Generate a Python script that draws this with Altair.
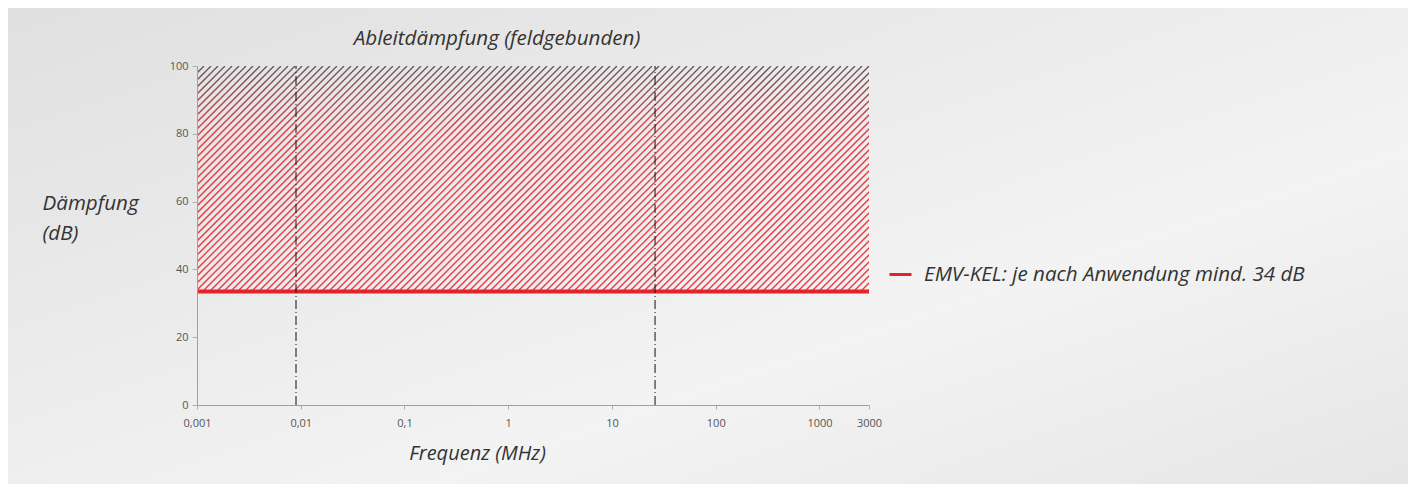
import altair as alt
import pandas as pd
import numpy as np

# ---- data ----
freq_ticks = [0.001, 0.01, 0.1, 1, 10, 100, 1000, 3000]
db_ticks = [0, 20, 40, 60, 80, 100]
freq_domain = [0.001, 3000]
db_domain = [0, 100]
marker_freqs = [0.009, 26]
limit_db = 33.5
shield_top_db = 100
limit_label = "EMV-KEL: je nach Anwendung mind. 34 dB"
chart_title = "Ableitdämpfung (feldgebunden)"

# ---- layout / style ----
W, H = 672, 339
FONT = "Open Sans"
FS = 20
TXT = "#333333"
RED = "#e2232d"

decade_px = W / np.log10(freq_domain[1] / freq_domain[0])
db_px = H / (db_domain[1] - db_domain[0])
span_dec = (shield_top_db - limit_db) * db_px / decade_px   # 45-degree hatch in log space
step_dec = 7.0 / decade_px                                   # 7 px hatch spacing
start_dec = np.log10(freq_domain[0]) - span_dec
n_lines = int(np.ceil((np.log10(freq_domain[1]) - start_dec) / step_dec)) + 1

x_scale = alt.Scale(type="log", domain=freq_domain, nice=False)
y_scale = alt.Scale(domain=db_domain, nice=False)

x_axis = alt.Axis(
    values=freq_ticks, zindex=1,
    labelExpr="replace(format(datum.value, '~g'), '.', ',')",
    title="Frequenz (MHz)", grid=False, tickSize=4, tickColor="#b0b0b0",
    domainColor="#a0a0a0", labelFont=FONT, labelFontSize=11, labelColor="#555555",
    labelPadding=8, labelFlush=False, labelOverlap=False,
    titleFont=FONT, titleFontStyle="italic", titleFontSize=FS, titleFontWeight="normal",
    titleColor=TXT, titleX=280, titleY=54, titleAlign="center", titleBaseline="alphabetic",
)
y_axis = alt.Axis(
    values=db_ticks, zindex=1, title=["Dämpfung", "(dB)"], titleAngle=0, titleAlign="left",
    titleBaseline="alphabetic", titleX=-155, titleY=143, titleLineHeight=30,
    grid=False, tickSize=5, tickColor="#b0b0b0", domainColor="#a0a0a0",
    labelFont=FONT, labelFontSize=11, labelColor="#555555", labelPadding=4,
    titleFont=FONT, titleFontStyle="italic", titleFontSize=20.6, titleFontWeight="normal",
    titleColor=TXT,
)

bg_grad = alt.LinearGradient(
    gradient="linear",
    stops=[alt.GradientStop(color="#e0e0e0", offset=0),
           alt.GradientStop(color="#f3f3f3", offset=0.65),
           alt.GradientStop(color="#e6e6e6", offset=1)],
    x1=0, y1=0, x2=1, y2=1,
)
background = alt.Chart(pd.DataFrame({"k": [0]})).mark_rect(fill=bg_grad).encode(
    x=alt.value(-189), x2=alt.value(W + 539), y=alt.value(-58), y2=alt.value(H + 79)
)

hatch_grad = alt.LinearGradient(
    gradient="linear",
    stops=[alt.GradientStop(color="#5a5458", offset=0),
           alt.GradientStop(color="#9a4a50", offset=0.12),
           alt.GradientStop(color="#e23a44", offset=0.3),
           alt.GradientStop(color="#ec3540", offset=1)],
    x1=0, y1=0, x2=0, y2=1,
)
hatch = (
    alt.Chart(alt.sequence(0, n_lines, 1, as_="i"))
    .transform_calculate(
        f0=f"pow(10, {start_dec} + datum.i * {step_dec})",
        f1=f"datum.f0 * {10 ** span_dec}",
        d0=f"{limit_db}",
        d1=f"{shield_top_db}",
    )
    .mark_rule(clip=True, strokeWidth=1.3, stroke=hatch_grad)
    .encode(
        x=alt.X("f0:Q", scale=x_scale, axis=x_axis), x2="f1:Q",
        y=alt.Y("d0:Q", scale=y_scale, axis=y_axis), y2="d1:Q",
    )
)

limit_df = pd.DataFrame({"f0": [freq_domain[0]], "f1": [freq_domain[1]],
                         "d0": [limit_db], "series": [limit_label]})
red = alt.Chart(limit_df).mark_rule(strokeWidth=4).encode(
    x=alt.X("f0:Q", scale=x_scale, axis=x_axis), x2="f1:Q",
    y=alt.Y("d0:Q", scale=y_scale, axis=y_axis),
    color=alt.Color("series:N", scale=alt.Scale(range=[RED]), legend=alt.Legend(
        orient="none", legendX=691, legendY=196, title=None, padding=0,
        symbolType="stroke", symbolSize=484, symbolStrokeWidth=3,
        labelFont=FONT, labelFontStyle="italic", labelFontSize=20.6, labelColor=TXT,
        labelLimit=0, labelOffset=11,
    )),
)

marker_df = pd.DataFrame({"f0": marker_freqs, "d0": [db_domain[0]] * 2, "d1": [db_domain[1]] * 2})
markers = alt.Chart(marker_df).mark_rule(strokeDash=[9, 3, 1, 3], color="#111111", strokeWidth=1).encode(
    x=alt.X("f0:Q", scale=x_scale, axis=x_axis),
    y=alt.Y("d0:Q", scale=y_scale, axis=y_axis), y2="d1:Q",
)

title_mark = alt.Chart(pd.DataFrame({"t": [chart_title]})).mark_text(
    font=FONT, fontStyle="italic", fontSize=20.6, color=TXT, align="center", baseline="alphabetic"
).encode(text="t:N", x=alt.value(300), y=alt.value(-21))

chart = (
    alt.layer(background, hatch, red, markers, title_mark)
    .properties(
        width=W, height=H, autosize="none",
        padding={"left": 189, "top": 58, "right": 539, "bottom": 79},
        background="#ececec",
    )
    .configure_view(stroke=None)
)

chart.save("out.html", embed_options={"renderer": "svg", "actions": False})
